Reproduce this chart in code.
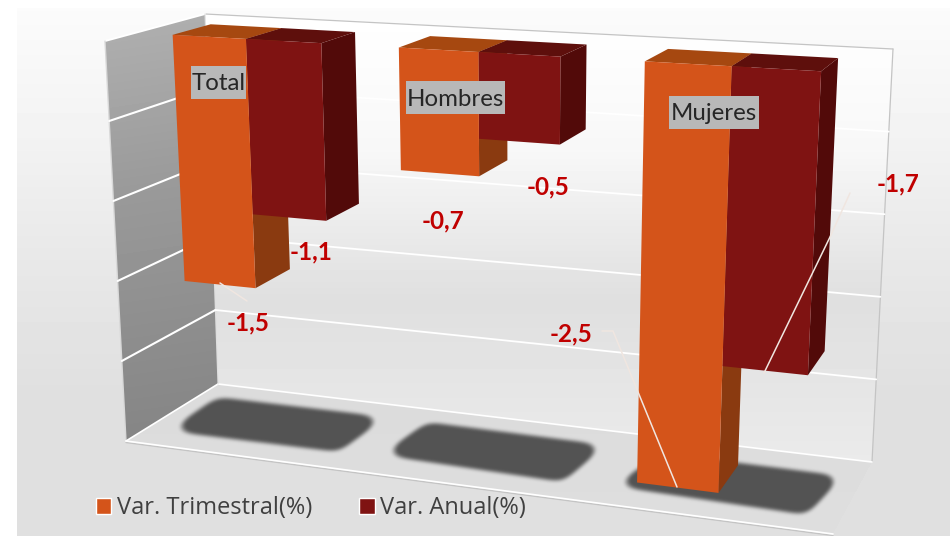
import numpy as np, pandas as pd, seaborn as sns
import matplotlib
matplotlib.use("Agg")
import matplotlib.pyplot as plt
from matplotlib.patches import Polygon, Rectangle
from matplotlib.path import Path
from matplotlib.transforms import Affine2D, Transform

categories = ["Total", "Hombres", "Mujeres"]
var_trimestral = [-1.53, -0.72, -2.48]
var_anual = [-1.065, -0.5, -1.71]
series_names = ["Var. Trimestral(%)", "Var. Anual(%)"]

W, H = 950, 536

# Camera of the 3D view: (category position, value, depth) -> picture pixels
P = np.array([[212.990294, -12.3553417, 46.3559682, 245.9801163],
              [10.9549296, -169.8243535, -9.7764787, 38.9290055],
              [-0.040801, -0.023967, 0.0369935, 1.0]])

def project(u, v, d=0.0):
    q = P @ np.array([u, v, d, 1.0])
    return q[0]/q[2], q[1]/q[2]

class Camera(Transform):
    input_dims = output_dims = 2
    def transform_non_affine(self, xy):
        xy = np.asarray(xy, float)
        q = np.c_[xy[:, 0], xy[:, 1], np.zeros(len(xy)), np.ones(len(xy))] @ P.T
        return np.c_[q[:, 0]/q[:, 2], H - q[:, 1]/q[:, 2]]

PX = Affine2D().scale(1, -1).translate(0, H)

sns.set_theme(style="white")
plt.rcParams["font.family"] = ["Open Sans", "DejaVu Sans"]
fig = plt.figure(figsize=(W/100, H/100), dpi=100)
bg = fig.add_axes([0, 0, 1, 1], zorder=0); bg.set_axis_off()

# background image: gradient, walls, floor and blurred shadows
yy, xx = np.mgrid[0:H, 0:W]
pts = np.c_[xx.ravel()+.5, yy.ravel()+.5]
def mask(poly):
    return Path(poly).contains_points(pts).reshape(H, W)
base = np.interp(yy, [8, 120, 260, 400, 536], [.985, .955, .91, .875, .875])
TL, TR, BR, BL = (205, 14), (893, 49), (872, 462), (218, 384)
LT, LB, FR = (105, 41), (126, 441), (833, 534)
back = np.interp(yy, [14, 150, 300, 370, 462], [1, .97, .875, .895, .92])
left = np.interp(yy + 0.15*(xx-105), [14, 200, 450], [.69, .6, .52])
floor = np.interp(yy, [384, 534], [.86, .87])
img = base.copy()
m = mask([TL, TR, BR, BL]); img[m] = back[m]
m = mask([LT, TL, BL, LB]); img[m] = left[m]
m = mask([LB, BL, BR, FR]); img[m] = floor[m]
def blur(a, r=5):
    k = np.ones(2*r+1)/(2*r+1)
    for _ in range(3):
        a = np.apply_along_axis(lambda s: np.convolve(s, k, "same"), 0, a)
        a = np.apply_along_axis(lambda s: np.convolve(s, k, "same"), 1, a)
    return a
sh = [[(168, 431), (217, 397), (386, 417), (339, 452)],
      [(381, 455), (427, 422), (606, 445), (563, 482)],
      [(613, 486), (661, 453), (843, 476), (807, 515)]]
s = np.zeros((H, W))
for p in sh:
    s += mask(p)
s = blur(s, 7)
s = np.clip((s - .5)/.2 + .5, 0, 1)
s = blur(s, 1)
img = img*(1-s) + .325*s
img[:8, :] = 1; img[:, :17] = 1
bg.imshow(img, cmap="gray", vmin=0, vmax=1, aspect="auto", extent=[0, W, H, 0], interpolation="nearest")
bg.set_xlim(0, W); bg.set_ylim(H, 0)

def seg(p, q, color, lw=1.2):
    bg.plot([p[0], q[0]], [p[1], q[1]], color=color, lw=lw, solid_capstyle="round")
grey = "#c4c4c4"
seg(TL, TR, grey, .9); seg(TR, BR, grey, .9)
seg(BL, BR, "white", 1.2); seg(LT, TL, "white", 1.4); seg(LT, LB, "#d8d8d8", 1)
seg(LB, BL, "white", 1.2); seg(TL, BL, "#dddddd", .8)
seg((LB[0], LB[1]+1.5), (FR[0], FR[1]+1.5), grey, 1); seg(LB, FR, "white", 1.2)
for f in [.2, .4, .6, .8]:
    a = np.array(LT)+f*(np.array(LB)-np.array(LT))
    g = np.array(TL)+f*(np.array(BL)-np.array(TL))
    e = np.array(TR)+f*(np.array(BR)-np.array(TR))
    seg(a, g, "white", 1.5); seg(g, e, "white", 1.3)

ax = fig.add_axes([0, 0, 1, 1], zorder=1); ax.patch.set_alpha(0)
df = pd.DataFrame({"cat": categories*2,
                   "serie": [series_names[0]]*3 + [series_names[1]]*3,
                   "valor": var_trimestral + var_anual})
pal = {series_names[0]: "#d4541a", series_names[1]: "#7f1312"}
sns.barplot(data=df, x="cat", y="valor", hue="serie", palette=pal, width=2/3, gap=0,
            saturation=1, ax=ax, legend=True)
ax.set_axis_off()
shade = [("#8a3a10", "#a64810"), ("#520a09", "#5e0f0c")]
cam = Camera()
for i, cont in enumerate(ax.containers):
    for r in cont:
        r.set_transform(cam)
        r.set_zorder(7 - i)          # orange front, red front, then the depth faces
        r.set_clip_on(False); r.set_linewidth(0)
        u0, u1, v = r.get_x(), r.get_x()+r.get_width(), r.get_height()
        side = [project(u1, 0), project(u1, 0, 1), project(u1, v, 1), project(u1, v)]
        top = [project(u0, 0), project(u0, 0, 1), project(u1, 0, 1), project(u1, 0)]
        for poly, col in zip((side, top), shade[i]):
            ax.add_patch(Polygon(poly, closed=True, fc=col, ec="none", zorder=3+i, transform=PX, clip_on=False))

h, l = ax.get_legend_handles_labels()
ax.legend(h, l, ncol=2, frameon=False, fontsize=17, loc="lower left", bbox_to_anchor=(96, H-520),
          bbox_transform=Affine2D(), handlelength=.64, handleheight=.64, handletextpad=.25,
          columnspacing=2.0, labelcolor="#404040", borderpad=0, borderaxespad=0)

boxes = [(191, 66, 55, "Total"), (406, 81, 99, "Hombres"), (669, 96, 90, "Mujeres")]
for x, y, w, t in boxes:
    ax.add_patch(Rectangle((x, y), w, 33, fc="#b8b8b8", ec="none", zorder=19, transform=PX, clip_on=False))
    ax.text(x + w/2, y + 18, t, ha="center", va="center", fontsize=17.3, color="#262626", family="Lato",
            zorder=20, transform=PX)
vals = [(248, 323, var_trimestral[0]), (311, 252, var_anual[0]), (443, 221, var_trimestral[1]),
        (548, 187, var_anual[1]), (571, 334, var_trimestral[2]), (898, 184, var_anual[2])]
for x, y, t in vals:
    ax.text(x, y, f"{t:.1f}".replace(".", ","), ha="center", va="center", fontsize=17.5, color="#c00000",
            family="Lato", weight="bold", zorder=20, transform=PX)
for line in [[(220, 283), (247, 301)], [(602, 331), (613, 331), (677, 487)], [(764, 373), (830, 237), (850, 193)]]:
    a = np.array(line)
    ax.plot(a[:, 0], a[:, 1], color="#f0e6e0", lw=1.1, zorder=15, transform=PX, clip_on=False)
fig.savefig("out.png", dpi=100)
